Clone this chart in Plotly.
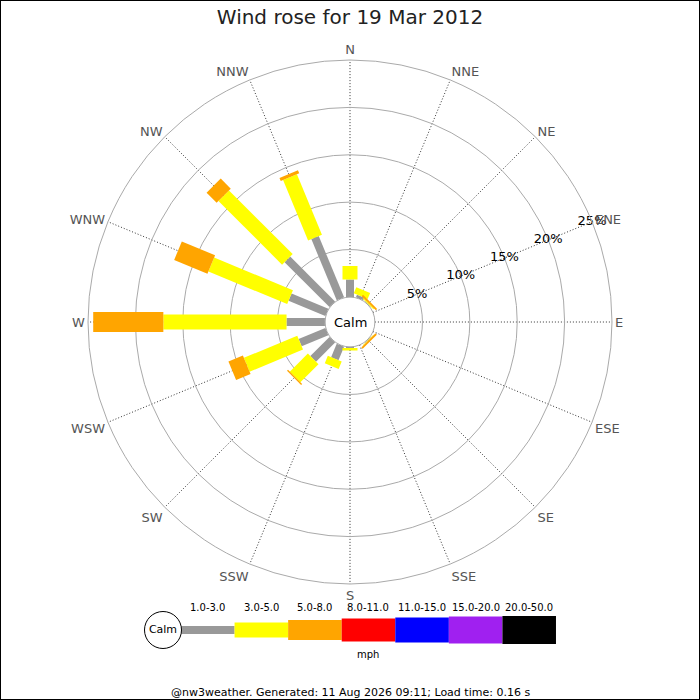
import plotly.graph_objects as go

# wind rose data, % of the day per direction and speed class
directions = ['N', 'NNE', 'NE', 'ENE', 'E', 'ESE', 'SE', 'SSE',
              'S', 'SSW', 'SW', 'WSW', 'W', 'WNW', 'NW', 'NNW']
speed_classes = ['1.0-3.0', '3.0-5.0', '5.0-8.0', '8.0-11.0',
                 '11.0-15.0', '15.0-20.0', '20.0-50.0']
class_colors = ['#999999', '#ffff00', '#ffa500', '#ff0000',
                '#0000ff', '#a020f0', '#000000']
class_widths = [8, 15, 20, 23, 25, 27, 28]

pct_1_3 = [1.85, 0.3, 0.05, 0, 0, 0, 0.05, 0, 0.1, 1.55, 2.85, 3.05, 4.05, 4.2, 6.7, 7.0]
pct_3_5 = [1.4, 0.7, 0.1, 0, 0, 0, 0.05, 0, 0.25, 0.85, 2.7, 6.1, 13.0, 9.0, 9.5, 6.9]
pct_5_8 = [0, 0, 0.2, 0, 0, 0, 0.2, 0, 0, 0, 0.15, 1.65, 7.4, 3.8, 1.5, 0.35]
class_pcts = [pct_1_3, pct_3_5, pct_5_8]

ring_vals = [5, 10, 15, 20, 25]
ring_labels = ['5%', '10%', '15%', '20%', '25%']

title = 'Wind rose for 19 Mar 2012'
footer = '@nw3weather. Generated: 11 Aug 2026 09:11; Load time: 0.16 s'

FONT = 'DejaVu Sans'
angles = [i * 22.5 for i in range(len(directions))]

fig = go.Figure()

# stacked segments drawn as thick radial lines (constant pixel width)
base = [0.0] * len(directions)
for k, vals in enumerate(class_pcts):
    for i, v in enumerate(vals):
        if v > 0:
            fig.add_trace(go.Scatterpolar(
                r=[base[i], base[i] + v], theta=[angles[i], angles[i]],
                mode='lines', line=dict(color=class_colors[k], width=class_widths[k]),
                showlegend=False, hoverinfo='skip'))
        base[i] += v

# ring labels along the ENE line
fig.add_trace(go.Scatterpolar(
    r=ring_vals, theta=[angles[3]] * len(ring_vals), mode='text',
    text=ring_labels, textfont=dict(family=FONT, size=13, color='black'),
    showlegend=False, hoverinfo='skip'))

# legend strip under the rose
for k, name in enumerate(speed_classes):
    fig.add_trace(go.Scatter(
        x=[k, k + 1], y=[0, 0], mode='lines', xaxis='x2', yaxis='y2',
        line=dict(color=class_colors[k], width=class_widths[k]),
        showlegend=False, hoverinfo='skip'))
fig.add_trace(go.Scatter(
    x=[-0.336], y=[0], mode='markers+text', xaxis='x2', yaxis='y2',
    marker=dict(size=37, color='white', line=dict(color='black', width=1)),
    text=['Calm'], textposition='middle center',
    textfont=dict(family=FONT, size=11, color='black'),
    cliponaxis=False, showlegend=False, hoverinfo='skip'))

annotations = [
    dict(text=name, x=k + 0.5, y=1 - 607 / 700, xref='x2', yref='paper',
         yanchor='middle', showarrow=False, font=dict(family=FONT, size=10, color='black'))
    for k, name in enumerate(speed_classes)
]
annotations += [
    dict(text='mph', x=3.5, y=1 - 654 / 700, xref='x2', yref='paper', yanchor='middle',
         showarrow=False, font=dict(family=FONT, size=10, color='black')),
    dict(text='Calm', x=0.5, y=1 - 322 / 700, xref='paper', yref='paper', yanchor='middle',
         showarrow=False, font=dict(family=FONT, size=13, color='black')),
    dict(text=footer, x=0.5, y=1 - 692 / 700, xref='paper', yref='paper', yanchor='middle',
         showarrow=False, font=dict(family=FONT, size=11, color='black')),
]

# legend axis: 1 unit per class, 53.6 px each, starting at x=181px
leg_px = 53.57
leg_lo = -0.8

fig.update_layout(
    width=700, height=700,
    margin=dict(l=0, r=0, t=0, b=0),
    paper_bgcolor='white', plot_bgcolor='white',
    title=dict(text=title, x=0.5, xanchor='center', y=1 - 17 / 700, yanchor='middle',
               font=dict(family=FONT, size=20, color='#222222')),
    polar=dict(
        domain=dict(x=[88 / 700, 612 / 700], y=[1 - 584 / 700, 1 - 60 / 700]),
        hole=0.095,
        bgcolor='white',
        radialaxis=dict(range=[-0.02, 25], tickvals=[0] + ring_vals, showticklabels=False,
                        showline=False, ticks='', gridcolor='#aaaaaa', gridwidth=1),
        angularaxis=dict(direction='clockwise', rotation=90, tickmode='array',
                         tickvals=angles, ticktext=directions, ticks='',
                         tickfont=dict(family=FONT, size=13, color='#555555'),
                         showline=True, linecolor='#aaaaaa', linewidth=1,
                         gridcolor='#333333', griddash='1px,2px', gridwidth=1),
    ),
    xaxis2=dict(domain=[(181 + leg_lo * leg_px) / 700, (181 + 7 * leg_px) / 700],
                range=[leg_lo, 7], visible=False, anchor='y2'),
    yaxis2=dict(domain=[0.05, 0.15], range=[-1, 1], visible=False, anchor='x2'),
    annotations=annotations,
    shapes=[dict(type='rect', xref='paper', yref='paper', x0=0, y0=0, x1=1, y1=1,
                 line=dict(color='black', width=2))],
)

fig.write_html('out.html', config={'displayModeBar': False},
               post_script="document.body.style.margin='0';")
